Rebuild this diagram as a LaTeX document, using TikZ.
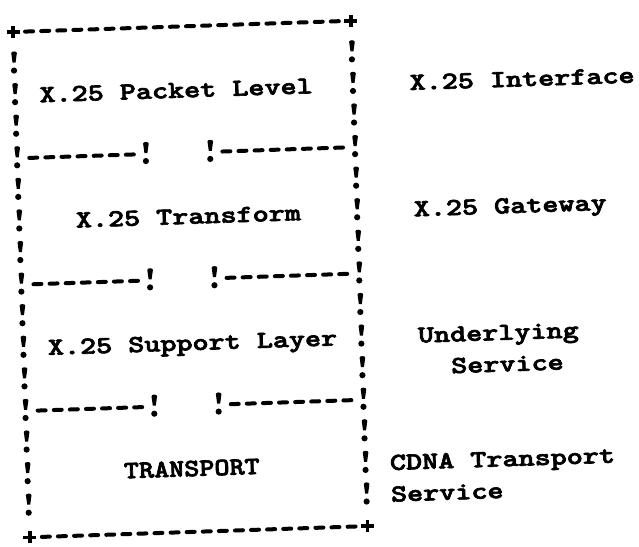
\documentclass[tikz,border=0pt]{standalone}
\usepackage{fontspec}
\newfontfamily\typefont{lmmonolt10-bold.otf}[FakeBold=2.5]
\begin{document}
\begin{tikzpicture}[x=1pt,y=1pt]
  \useasboundingbox (0,0) rectangle (639,546);
  \fill[white] (0,0) rectangle (639,546);
  % character grid of the typed layout
  \def\cw{16.1}
  \def\rh{31.6}
  \tikzset{
    typed/.style={font=\fontsize{24.5}{32}\selectfont\typefont,
      inner sep=0pt, anchor=base west, transform shape, xscale=1.25},
    caps/.style={font=\fontsize{25}{32}\selectfont\typefont,
      inner sep=0pt, anchor=base, transform shape, xscale=1.15},
    dashrow/.style={line width=4pt, line cap=round, dash pattern=on 8pt off 8.1pt},
    bang/.pic={
      \fill (-2.8,10.5) to[out=90,in=90] (2.8,10.5) -- (1.5,1) -- (-1.5,1) -- cycle;
      \fill (0,-7) circle (3.1);
    },
    cross/.pic={
      \draw[line width=3.6pt] (-6.5,0) -- (6.5,0) (0,-6) -- (0,6);
    }
  }
  \begin{scope}[shift={(13,514)}, rotate=1.9]
    % outer frame: corners and top/bottom rules
    \foreach \r in {0,16} {
      \pic at (0,{-\r*\rh}) {cross};
      \pic at ({21*\cw},{-\r*\rh}) {cross};
      \draw[dashrow] ({\cw-4},{-\r*\rh}) -- ({20*\cw+4},{-\r*\rh});
    }
    % side walls
    \foreach \r in {1,...,15} {
      \pic at (0,{-\r*\rh}) {bang};
      \pic at ({21*\cw},{-\r*\rh}) {bang};
    }
    % split dividers between the layers
    \foreach \r in {4,8,12} {
      \pic at ({8*\cw},{-\r*\rh}) {bang};
      \pic at ({12*\cw},{-\r*\rh}) {bang};
      \draw[dashrow] ({\cw-4},{-\r*\rh}) -- ({7*\cw+4},{-\r*\rh});
      \draw[dashrow] ({13*\cw-4},{-\r*\rh}) -- ({20*\cw+4},{-\r*\rh});
    }
    % layer names
    \node[typed] (pktlevel)  at ({2*\cw-8.05},{-2*\rh-8})  {X.25 Packet Level};
    \node[typed] (transform) at ({4*\cw-8.05},{-6*\rh-8})  {X.25 Transform};
    \node[typed] (support)   at ({2*\cw-8.05},{-10*\rh-8}) {X.25 Support Layer};
    \node[caps]  (transport) at ({10.2*\cw},{-14*\rh-7.5}) {TRANSPORT};
    % service boundaries
    \node[typed] (lblif)     at ({25*\cw-8.05},{-2*\rh-8})  {X.25 Interface};
    \node[typed] (lblgw)     at ({25*\cw-8.05},{-6*\rh-8})  {X.25 Gateway};
    \node[typed] (lblunder)  at ({25*\cw-8.05},{-10*\rh-8}) {Underlying};
    \node[typed] (lblsvc)    at ({27*\cw-8.05},{-11*\rh-8}) {Service};
    \node[typed] (lblcdna)   at ({23*\cw-8.05},{-14*\rh-8}) {CDNA Transport};
    \node[typed] (lblcdnasvc) at ({23*\cw-8.05},{-15*\rh-8}) {Service};
  \end{scope}
\end{tikzpicture}
\end{document}
